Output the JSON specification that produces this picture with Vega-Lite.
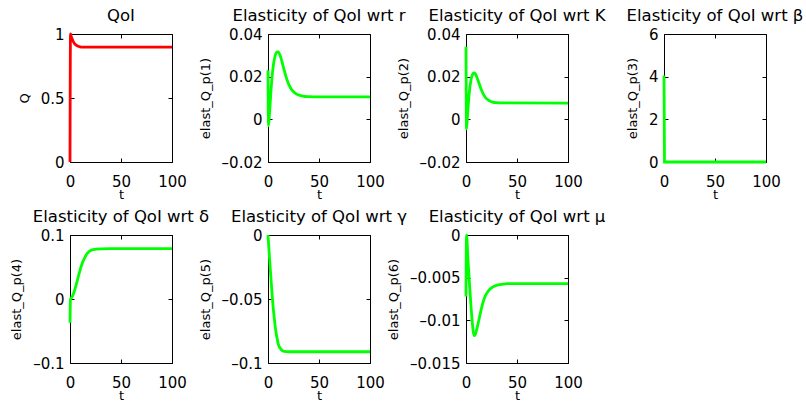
{
  "$schema": "https://vega.github.io/schema/vega-lite/v6.json",
  "background": "white",
  "padding": {"left": 10, "top": 7, "right": 2, "bottom": 2},
  "data": {"values": [
    {"p":"Q","t":0,"v":0},{"p":"Q","t":0.5,"v":1.0},{"p":"Q","t":1,"v":0.985},{"p":"Q","t":2,"v":0.962},{"p":"Q","t":3,"v":0.944},{"p":"Q","t":4,"v":0.93},{"p":"Q","t":5,"v":0.92},{"p":"Q","t":6,"v":0.913},{"p":"Q","t":7,"v":0.908},{"p":"Q","t":8,"v":0.904},{"p":"Q","t":10,"v":0.9},{"p":"Q","t":12,"v":0.898},{"p":"Q","t":15,"v":0.897},{"p":"Q","t":100,"v":0.897},
    {"p":"r","t":0,"v":0.023},{"p":"r","t":0.5,"v":-0.003},{"p":"r","t":1.5,"v":0.003},{"p":"r","t":3,"v":0.014},{"p":"r","t":5,"v":0.0245},{"p":"r","t":7,"v":0.0298},{"p":"r","t":9,"v":0.0316},{"p":"r","t":10,"v":0.0316},{"p":"r","t":12,"v":0.0298},{"p":"r","t":14,"v":0.0265},{"p":"r","t":16,"v":0.0228},{"p":"r","t":18,"v":0.0194},{"p":"r","t":20,"v":0.0168},{"p":"r","t":22,"v":0.0148},{"p":"r","t":25,"v":0.0129},{"p":"r","t":28,"v":0.0118},{"p":"r","t":32,"v":0.0111},{"p":"r","t":36,"v":0.0107},{"p":"r","t":40,"v":0.0106},{"p":"r","t":50,"v":0.0105},{"p":"r","t":100,"v":0.0105},
    {"p":"K","t":0,"v":0.034},{"p":"K","t":0.5,"v":-0.0045},{"p":"K","t":1.5,"v":0.002},{"p":"K","t":3,"v":0.0115},{"p":"K","t":5,"v":0.0188},{"p":"K","t":7,"v":0.0215},{"p":"K","t":8,"v":0.0218},{"p":"K","t":9,"v":0.0214},{"p":"K","t":10,"v":0.0205},{"p":"K","t":12,"v":0.018},{"p":"K","t":14,"v":0.0152},{"p":"K","t":16,"v":0.0128},{"p":"K","t":18,"v":0.011},{"p":"K","t":20,"v":0.0097},{"p":"K","t":23,"v":0.0087},{"p":"K","t":26,"v":0.0081},{"p":"K","t":30,"v":0.0078},{"p":"K","t":35,"v":0.0077},{"p":"K","t":100,"v":0.0076},
    {"p":"b","t":0,"v":4.05},{"p":"b","t":0.5,"v":0},{"p":"b","t":100,"v":0},
    {"p":"d","t":0,"v":-0.037},{"p":"d","t":0.5,"v":0},{"p":"d","t":1,"v":0.001},{"p":"d","t":2,"v":0.003},{"p":"d","t":4,"v":0.011},{"p":"d","t":6,"v":0.022},{"p":"d","t":8,"v":0.034},{"p":"d","t":10,"v":0.046},{"p":"d","t":12,"v":0.056},{"p":"d","t":14,"v":0.063},{"p":"d","t":16,"v":0.069},{"p":"d","t":18,"v":0.073},{"p":"d","t":20,"v":0.0755},{"p":"d","t":23,"v":0.0772},{"p":"d","t":26,"v":0.078},{"p":"d","t":30,"v":0.0784},{"p":"d","t":40,"v":0.0786},{"p":"d","t":100,"v":0.0786},
    {"p":"g","t":0,"v":0},{"p":"g","t":1,"v":-0.012},{"p":"g","t":2,"v":-0.024},{"p":"g","t":3,"v":-0.035},{"p":"g","t":4,"v":-0.046},{"p":"g","t":5,"v":-0.056},{"p":"g","t":6,"v":-0.064},{"p":"g","t":7,"v":-0.071},{"p":"g","t":8,"v":-0.077},{"p":"g","t":9,"v":-0.081},{"p":"g","t":10,"v":-0.085},{"p":"g","t":12,"v":-0.0885},{"p":"g","t":14,"v":-0.0903},{"p":"g","t":16,"v":-0.091},{"p":"g","t":20,"v":-0.0912},{"p":"g","t":100,"v":-0.0912},
    {"p":"m","t":0,"v":-0.0072},{"p":"m","t":0.5,"v":0},{"p":"m","t":2,"v":-0.003},{"p":"m","t":4,"v":-0.0068},{"p":"m","t":6,"v":-0.01},{"p":"m","t":7,"v":-0.0112},{"p":"m","t":8,"v":-0.0118},{"p":"m","t":9,"v":-0.0117},{"p":"m","t":10,"v":-0.0113},{"p":"m","t":12,"v":-0.0103},{"p":"m","t":14,"v":-0.0092},{"p":"m","t":16,"v":-0.0082},{"p":"m","t":18,"v":-0.0074},{"p":"m","t":20,"v":-0.0069},{"p":"m","t":23,"v":-0.0064},{"p":"m","t":26,"v":-0.0061},{"p":"m","t":30,"v":-0.0059},{"p":"m","t":35,"v":-0.0058},{"p":"m","t":40,"v":-0.0057},{"p":"m","t":100,"v":-0.0057}
  ]},
  "columns": 4,
  "bounds": "flush",
  "spacing": {"row": 73, "column": 96},
  "concat": [
    {"title": "QoI", "width": 102, "height": 128,
     "transform": [{"filter": "datum.p === 'Q'"}],
     "resolve": {"axis": {"x": "independent", "y": "independent"}},
     "layer": [
       {"mark": {"type": "line", "color": "#ff0000", "strokeWidth": 2.8, "interpolate": "monotone"},
        "encoding": {
          "x": {"field": "t", "type": "quantitative", "scale": {"domain": [0, 100], "nice": false}, "axis": {"title": "t", "values": [0, 50, 100], "labelExpr": "(datum.value < 0 ? '–' : '') + format(abs(datum.value), '~g')"}},
          "y": {"field": "v", "type": "quantitative", "scale": {"domain": [0, 1], "nice": false, "zero": false}, "axis": {"title": "Q", "values": [0, 0.5, 1], "labelExpr": "(datum.value < 0 ? '–' : '') + format(abs(datum.value), '~g')"}}
        }},
       {"mark": {"type": "line", "strokeOpacity": 0},
        "encoding": {
          "x": {"field": "t", "type": "quantitative", "axis": {"orient": "top", "values": [0, 50, 100], "labels": false, "title": null}},
          "y": {"field": "v", "type": "quantitative", "axis": {"orient": "right", "values": [0, 0.5, 1], "labels": false, "title": null}}
        }}
     ]},
    {"title": "Elasticity of QoI wrt r", "width": 102, "height": 128,
     "transform": [{"filter": "datum.p === 'r'"}],
     "resolve": {"axis": {"x": "independent", "y": "independent"}},
     "layer": [
       {"mark": {"type": "line", "color": "#00ff00", "strokeWidth": 2.8, "interpolate": "monotone"},
        "encoding": {
          "x": {"field": "t", "type": "quantitative", "scale": {"domain": [0, 100], "nice": false}, "axis": {"title": "t", "values": [0, 50, 100], "labelExpr": "(datum.value < 0 ? '–' : '') + format(abs(datum.value), '~g')"}},
          "y": {"field": "v", "type": "quantitative", "scale": {"domain": [-0.02, 0.04], "nice": false, "zero": false}, "axis": {"title": "elast_Q_p(1)", "values": [-0.02, 0, 0.02, 0.04], "labelExpr": "(datum.value < 0 ? '–' : '') + format(abs(datum.value), '~g')"}}
        }},
       {"mark": {"type": "line", "strokeOpacity": 0},
        "encoding": {
          "x": {"field": "t", "type": "quantitative", "axis": {"orient": "top", "values": [0, 50, 100], "labels": false, "title": null}},
          "y": {"field": "v", "type": "quantitative", "axis": {"orient": "right", "values": [-0.02, 0, 0.02, 0.04], "labels": false, "title": null}}
        }}
     ]},
    {"title": "Elasticity of QoI wrt K", "width": 102, "height": 128,
     "transform": [{"filter": "datum.p === 'K'"}],
     "resolve": {"axis": {"x": "independent", "y": "independent"}},
     "layer": [
       {"mark": {"type": "line", "color": "#00ff00", "strokeWidth": 2.8, "interpolate": "monotone"},
        "encoding": {
          "x": {"field": "t", "type": "quantitative", "scale": {"domain": [0, 100], "nice": false}, "axis": {"title": "t", "values": [0, 50, 100], "labelExpr": "(datum.value < 0 ? '–' : '') + format(abs(datum.value), '~g')"}},
          "y": {"field": "v", "type": "quantitative", "scale": {"domain": [-0.02, 0.04], "nice": false, "zero": false}, "axis": {"title": "elast_Q_p(2)", "values": [-0.02, 0, 0.02, 0.04], "labelExpr": "(datum.value < 0 ? '–' : '') + format(abs(datum.value), '~g')"}}
        }},
       {"mark": {"type": "line", "strokeOpacity": 0},
        "encoding": {
          "x": {"field": "t", "type": "quantitative", "axis": {"orient": "top", "values": [0, 50, 100], "labels": false, "title": null}},
          "y": {"field": "v", "type": "quantitative", "axis": {"orient": "right", "values": [-0.02, 0, 0.02, 0.04], "labels": false, "title": null}}
        }}
     ]},
    {"title": "Elasticity of QoI wrt β", "width": 102, "height": 128,
     "transform": [{"filter": "datum.p === 'b'"}],
     "resolve": {"axis": {"x": "independent", "y": "independent"}},
     "layer": [
       {"mark": {"type": "line", "color": "#00ff00", "strokeWidth": 2.8},
        "encoding": {
          "x": {"field": "t", "type": "quantitative", "scale": {"domain": [0, 100], "nice": false}, "axis": {"title": "t", "values": [0, 50, 100], "labelExpr": "(datum.value < 0 ? '–' : '') + format(abs(datum.value), '~g')"}},
          "y": {"field": "v", "type": "quantitative", "scale": {"domain": [0, 6], "nice": false, "zero": false}, "axis": {"title": "elast_Q_p(3)", "values": [0, 2, 4, 6], "labelExpr": "(datum.value < 0 ? '–' : '') + format(abs(datum.value), '~g')"}}
        }},
       {"mark": {"type": "line", "strokeOpacity": 0},
        "encoding": {
          "x": {"field": "t", "type": "quantitative", "axis": {"orient": "top", "values": [0, 50, 100], "labels": false, "title": null}},
          "y": {"field": "v", "type": "quantitative", "axis": {"orient": "right", "values": [0, 2, 4, 6], "labels": false, "title": null}}
        }}
     ]},
    {"title": "Elasticity of QoI wrt δ", "width": 102, "height": 128,
     "transform": [{"filter": "datum.p === 'd'"}],
     "resolve": {"axis": {"x": "independent", "y": "independent"}},
     "layer": [
       {"mark": {"type": "line", "color": "#00ff00", "strokeWidth": 2.8, "interpolate": "monotone"},
        "encoding": {
          "x": {"field": "t", "type": "quantitative", "scale": {"domain": [0, 100], "nice": false}, "axis": {"title": "t", "values": [0, 50, 100], "labelExpr": "(datum.value < 0 ? '–' : '') + format(abs(datum.value), '~g')"}},
          "y": {"field": "v", "type": "quantitative", "scale": {"domain": [-0.1, 0.1], "nice": false, "zero": false}, "axis": {"title": "elast_Q_p(4)", "values": [-0.1, 0, 0.1], "labelExpr": "(datum.value < 0 ? '–' : '') + format(abs(datum.value), '~g')"}}
        }},
       {"mark": {"type": "line", "strokeOpacity": 0},
        "encoding": {
          "x": {"field": "t", "type": "quantitative", "axis": {"orient": "top", "values": [0, 50, 100], "labels": false, "title": null}},
          "y": {"field": "v", "type": "quantitative", "axis": {"orient": "right", "values": [-0.1, 0, 0.1], "labels": false, "title": null}}
        }}
     ]},
    {"title": "Elasticity of QoI wrt γ", "width": 102, "height": 128,
     "transform": [{"filter": "datum.p === 'g'"}],
     "resolve": {"axis": {"x": "independent", "y": "independent"}},
     "layer": [
       {"mark": {"type": "line", "color": "#00ff00", "strokeWidth": 2.8, "interpolate": "monotone"},
        "encoding": {
          "x": {"field": "t", "type": "quantitative", "scale": {"domain": [0, 100], "nice": false}, "axis": {"title": "t", "values": [0, 50, 100], "labelExpr": "(datum.value < 0 ? '–' : '') + format(abs(datum.value), '~g')"}},
          "y": {"field": "v", "type": "quantitative", "scale": {"domain": [-0.1, 0], "nice": false, "zero": false}, "axis": {"title": "elast_Q_p(5)", "values": [-0.1, -0.05, 0], "labelExpr": "(datum.value < 0 ? '–' : '') + format(abs(datum.value), '~g')"}}
        }},
       {"mark": {"type": "line", "strokeOpacity": 0},
        "encoding": {
          "x": {"field": "t", "type": "quantitative", "axis": {"orient": "top", "values": [0, 50, 100], "labels": false, "title": null}},
          "y": {"field": "v", "type": "quantitative", "axis": {"orient": "right", "values": [-0.1, -0.05, 0], "labels": false, "title": null}}
        }}
     ]},
    {"title": "Elasticity of QoI wrt μ", "width": 102, "height": 128,
     "transform": [{"filter": "datum.p === 'm'"}],
     "resolve": {"axis": {"x": "independent", "y": "independent"}},
     "layer": [
       {"mark": {"type": "line", "color": "#00ff00", "strokeWidth": 2.8, "interpolate": "monotone"},
        "encoding": {
          "x": {"field": "t", "type": "quantitative", "scale": {"domain": [0, 100], "nice": false}, "axis": {"title": "t", "values": [0, 50, 100], "labelExpr": "(datum.value < 0 ? '–' : '') + format(abs(datum.value), '~g')"}},
          "y": {"field": "v", "type": "quantitative", "scale": {"domain": [-0.015, 0], "nice": false, "zero": false}, "axis": {"title": "elast_Q_p(6)", "values": [-0.015, -0.01, -0.005, 0], "labelExpr": "(datum.value < 0 ? '–' : '') + format(abs(datum.value), '~g')"}}
        }},
       {"mark": {"type": "line", "strokeOpacity": 0},
        "encoding": {
          "x": {"field": "t", "type": "quantitative", "axis": {"orient": "top", "values": [0, 50, 100], "labels": false, "title": null}},
          "y": {"field": "v", "type": "quantitative", "axis": {"orient": "right", "values": [-0.015, -0.01, -0.005, 0], "labels": false, "title": null}}
        }}
     ]}
  ],
  "config": {
    "view": {"stroke": "#000000", "strokeWidth": 1},
    "title": {"font": "DejaVu Sans", "fontSize": 16.5, "fontWeight": "normal", "color": "#000000", "anchor": "middle", "baseline": "alphabetic", "offset": 3},
    "axis": {"grid": false, "domain": false, "tickColor": "#000000", "tickSize": -4, "tickWidth": 1,
             "labelFont": "DejaVu Sans", "labelFontSize": 15, "labelColor": "#000000", "labelFlush": false, "labelOverlap": false, "labelBound": false,
             "titleFont": "DejaVu Sans", "titleFontSize": 13, "titleFontWeight": "normal", "titleColor": "#000000"},
    "axisX": {"labelPadding": 16, "titlePadding": -1},
    "axisY": {"labelPadding": 10, "titlePadding": 9}
  }
}
